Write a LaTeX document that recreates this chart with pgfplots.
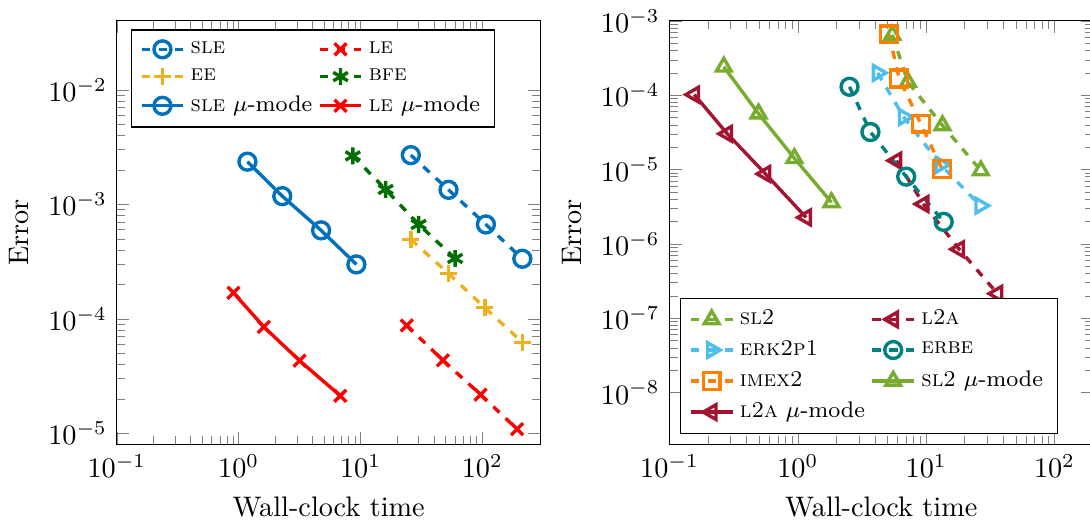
\documentclass[border=0pt]{standalone}
\usepackage{pgfplots}
\pgfplotsset{compat=1.18}
\definecolor{cSLE}{HTML}{0072BD}
\definecolor{cLE}{HTML}{FF0000}
\definecolor{cEE}{HTML}{EDB120}
\definecolor{cBFE}{RGB}{0,110,0}
\definecolor{cSL}{HTML}{77AC30}
\definecolor{cLA}{HTML}{A2142F}
\definecolor{cERK}{HTML}{4DBEEE}
\definecolor{cIMEX}{RGB}{255,128,0}
\definecolor{cERBE}{RGB}{0,128,128}
\tikzset{dsh/.style={dashed, mark options={solid}}}
\pgfplotsset{legend image code/.code={\draw[mark repeat=2,mark phase=2] plot coordinates {(0cm,0cm) (0.26cm,0cm) (0.52cm,0cm)};}}
\begin{document}
\begin{tikzpicture}[trim right=344.6pt]
\begin{axis}[xmode=log, ymode=log, scale only axis, width=150pt, height=150pt,
  xlabel={Wall-clock time}, ylabel={Error},
  legend columns=2, legend cell align=left,
  legend style={font=\footnotesize, at={(0.033,0.98)}, anchor=north west},
  every axis plot/.append style={line width=1.2pt, mark size=3pt},
  xmin=0.1, xmax=300, ymin=8e-6, ymax=4e-2,
  xtick={0.1,1,10,100}, ytick={1e-5,1e-4,1e-3,1e-2}]
\addplot[cSLE, dsh, mark=o] coordinates {(25.9,2.69e-3) (52.8,1.34e-3) (107,6.68e-4) (213,3.35e-4)};
\addlegendentry{\textsc{sle}}
\addplot[cLE, dsh, mark=x] coordinates {(24.0,8.75e-5) (47.5,4.35e-5) (96.8,2.18e-5) (193,1.09e-5)};
\addlegendentry{\textsc{le}}
\addplot[cEE, dsh, mark=+] coordinates {(25.9,4.94e-4) (52.8,2.49e-4) (105,1.25e-4) (213,6.25e-5)};
\addlegendentry{\textsc{ee}}
\addplot[cBFE, dsh, mark=asterisk] coordinates {(8.65,2.65e-3) (16.1,1.35e-3) (30.0,6.68e-4) (59.8,3.37e-4)};
\addlegendentry{\textsc{bfe}}
\addplot[cSLE, mark=o] coordinates {(1.18,2.36e-3) (2.28,1.18e-3) (4.75,5.93e-4) (9.25,2.99e-4)};
\addlegendentry{\textsc{sle} $\mu$-mode}
\addplot[cLE, mark=x] coordinates {(0.906,1.69e-4) (1.61,8.51e-5) (3.16,4.32e-5) (6.83,2.13e-5)};
\addlegendentry{\textsc{le} $\mu$-mode}
\end{axis}
\begin{axis}[xmode=log, ymode=log, scale only axis, width=150pt, height=150pt,
  xlabel={Wall-clock time}, ylabel={Error},
  legend columns=2, legend cell align=left,
  legend style={font=\footnotesize, at={(0.025,0.025)}, anchor=south west},
  every axis plot/.append style={line width=1.2pt, mark size=3pt},
  at={(195.7pt,0pt)}, anchor=south west,
  xmin=0.1, xmax=200, ymin=2e-9, ymax=1e-3,
  xtick={0.1,1,10,100}, ytick={1e-8,1e-7,1e-6,1e-5,1e-4,1e-3}]
\addplot[cSL, dsh, mark=triangle] coordinates {(5.45,6.47e-4) (7.21,1.51e-4) (13.4,3.93e-5) (26.7,9.7e-6)};
\addlegendentry{\textsc{sl2}}
\addplot[cLA, dashed, mark=triangle, mark options={solid, rotate=90}] coordinates {(5.87,1.32e-5) (9.55,3.44e-6) (18.1,8.47e-7) (36.0,2.14e-7)};
\addlegendentry{\textsc{l2a}}
\addplot[cERK, dashed, mark=triangle, mark options={solid, rotate=-90}] coordinates {(4.19,2.0e-4) (6.69,5.09e-5) (13.0,1.16e-5) (26.4,3.27e-6)};
\addlegendentry{\textsc{erk2p1}}
\addplot[cERBE, dsh, mark=o] coordinates {(2.53,1.30e-4) (3.68,3.20e-5) (6.99,8.04e-6) (13.7,1.98e-6)};
\addlegendentry{\textsc{erbe}}
\addplot[cIMEX, dsh, mark=square] coordinates {(5.12,6.61e-4) (6.17,1.68e-4) (9.08,4.14e-5) (13.3,1.02e-5)};
\addlegendentry{\textsc{imex2}}
\addplot[cSL, mark=triangle] coordinates {(0.265,2.42e-4) (0.494,5.65e-5) (0.94,1.42e-5) (1.83,3.62e-6)};
\addlegendentry{\textsc{sl2} $\mu$-mode}
\addplot[cLA, mark=triangle, mark options={rotate=90}] coordinates {(0.156,1.02e-4) (0.282,3.03e-5) (0.56,8.74e-6) (1.16,2.27e-6)};
\addlegendentry{\textsc{l2a} $\mu$-mode}
\end{axis}
\end{tikzpicture}
\end{document}
